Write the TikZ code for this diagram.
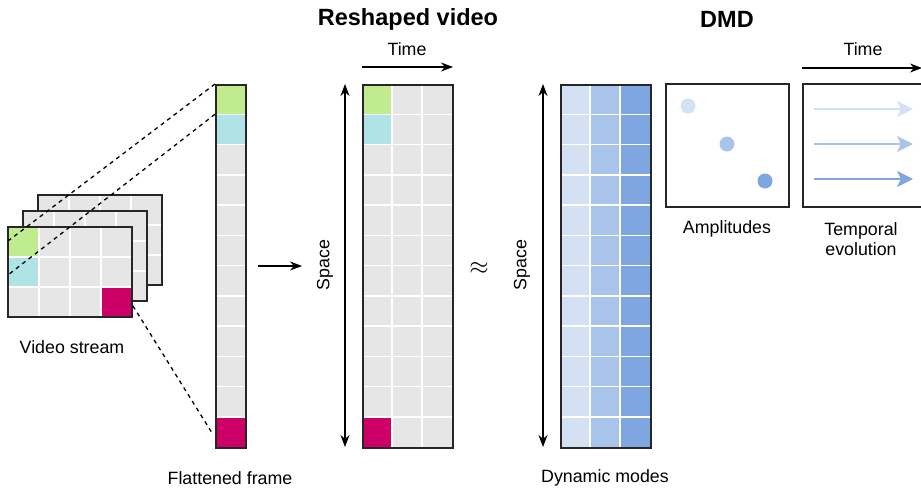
\documentclass[tikz,border=0pt]{standalone}
\usepackage{fontspec}
\setmainfont{Liberation Sans}
\usetikzlibrary{arrows.meta,positioning}

\definecolor{cellgray}{HTML}{E6E6E6}
\definecolor{pixgreen}{HTML}{C0EB8F}
\definecolor{pixcyan}{HTML}{B0E3E6}
\definecolor{pixmag}{HTML}{CC0066}
\definecolor{modeA}{HTML}{D4E1F5}
\definecolor{modeB}{HTML}{A9C4EB}
\definecolor{modeC}{HTML}{7EA6E0}

\tikzset{
  txt/.style={font=\fontsize{17.8}{20.5}\selectfont, align=center},
  title/.style={font=\fontsize{23.5}{27}\selectfont\bfseries},
  gridline/.style={white, line width=1.5pt},
  frameline/.style={draw=black!85, line width=1.5pt},
  axis/.style={line width=1.2pt, -{Stealth[length=12pt,width=9pt]}},
  guide/.style={line width=1.3pt, dash pattern=on 4pt off 4pt},
}

\begin{document}
\begin{tikzpicture}[x=1pt, y=-1pt]
\useasboundingbox (0,0) rectangle (921,490);

% video stream: three stacked frames
\foreach \ox/\oy in {30/-32, 15/-16} {
  \fill[cellgray] (8+\ox,227+\oy) rectangle (132+\ox,317+\oy);
  \foreach \k in {1,2,3}
    \draw[gridline] (8+\ox+31*\k,227+\oy) -- (8+\ox+31*\k,317+\oy);
  \foreach \k in {1,2}
    \draw[gridline] (8+\ox,227+\oy+30*\k) -- (132+\ox,227+\oy+30*\k);
  \draw[frameline] (8+\ox,227+\oy) rectangle (132+\ox,317+\oy);
}
\fill[cellgray] (8,227) rectangle (132,317);
\fill[pixgreen] (8,227) rectangle (39,257);
\fill[pixcyan] (8,257) rectangle (39,287);
\fill[pixmag] (101,287) rectangle (132,317);
\foreach \k in {1,2,3}
  \draw[gridline] (8+31*\k,227) -- (8+31*\k,317);
\foreach \k in {1,2}
  \draw[gridline] (8,227+30*\k) -- (132,227+30*\k);
\draw[frameline] (8,227) rectangle (132,317);
\node[txt] (stream) at (72,347) {Video stream};

% flattened frame
\fill[cellgray] (215,84) rectangle (245,447);
\fill[pixgreen] (215,84) rectangle (245,114.25);
\fill[pixcyan] (215,114.25) rectangle (245,144.5);
\fill[pixmag] (215,416.75) rectangle (245,447);
\foreach \k in {1,...,11}
  \draw[gridline] (215,84+30.25*\k) -- (245,84+30.25*\k);
\node[frameline, minimum width=30pt, minimum height=363pt, inner sep=0pt,
  anchor=north west] (flat) at (215,84) {};
\node[txt] (flatlbl) at (230,478) {Flattened frame};

% reshaped video
\fill[cellgray] (362,84) rectangle (452,447);
\fill[pixgreen] (362,84) rectangle (392,114.25);
\fill[pixcyan] (362,114.25) rectangle (392,144.5);
\fill[pixmag] (362,416.75) rectangle (392,447);
\foreach \k in {1,...,11}
  \draw[gridline] (362,84+30.25*\k) -- (452,84+30.25*\k);
\foreach \k in {1,2}
  \draw[gridline] (362+30*\k,84) -- (362+30*\k,447);
\node[frameline, minimum width=90pt, minimum height=363pt, inner sep=0pt,
  anchor=north west] (video) at (362,84) {};
\node[title] (vidtitle) at (408,19) {Reshaped video};
\node[txt] (time1) at (407,49) {Time};
\coordinate (t1a) at (362,67);
\coordinate (t1b) at (453,67);
\draw[axis] (t1a) -- (t1b);
\coordinate (s1a) at (345,447);
\coordinate (s1b) at (345,84);
\draw[axis, {Stealth[length=12pt,width=9pt]}-{Stealth[length=12pt,width=9pt]}] (s1a) -- (s1b);
\node[txt, rotate=90] (space1) at (325,265) {Space};

\coordinate (m1) at (258,266);
\coordinate (m2) at (302,266);
\draw[axis] (m1) -- (m2);
\node[font=\fontsize{24}{26}\selectfont] (approx) at (479,268) {$\approx$};

% DMD modes
\foreach \c/\col in {0/modeA, 1/modeB, 2/modeC}
  \fill[\col] (560+30*\c,84) rectangle (590+30*\c,447);
\foreach \k in {1,...,11}
  \draw[gridline] (560,84+30.25*\k) -- (650,84+30.25*\k);
\foreach \k in {1,2}
  \draw[gridline] (560+30*\k,84) -- (560+30*\k,447);
\node[frameline, minimum width=90pt, minimum height=363pt, inner sep=0pt,
  anchor=north west] (modes) at (560,84) {};
\coordinate (s2a) at (543,447);
\coordinate (s2b) at (543,84);
\draw[axis, {Stealth[length=12pt,width=9pt]}-{Stealth[length=12pt,width=9pt]}] (s2a) -- (s2b);
\node[txt, rotate=90] (space2) at (522,265) {Space};
\node[txt] (modelbl) at (605,478) {Dynamic modes};
\node[title] (dmdtitle) at (727,19) {DMD};

% amplitudes
\node[frameline, minimum width=123pt, minimum height=123pt, inner sep=0pt,
  anchor=north west] (amp) at (665,83) {};
\fill[modeA] (688,106) circle (7.5);
\fill[modeB] (727,144) circle (7.5);
\fill[modeC] (765,181) circle (7.5);
\node[txt] (amplbl) at (727,229) {Amplitudes};

% temporal evolution
\node[frameline, minimum width=122pt, minimum height=123pt, inner sep=0pt,
  anchor=north west] (evo) at (802,83) {};
\foreach \y/\col in {109/modeA, 144/modeB, 179/modeC}
  \draw[\col, line width=2.5pt, -{Stealth[length=16pt,width=16pt,inset=4pt]}] (814,\y) -- (913,\y);
\node[txt] (time2) at (863,49) {Time};
\coordinate (t2a) at (802,68);
\coordinate (t2b) at (922,68);
\draw[axis] (t2a) -- (t2b);
\node[txt] (evolbl) at (861,239) {Temporal\\[-1pt]evolution};

% guides from frame to column
\coordinate (g1) at (8,241);
\coordinate (g2) at (8,275);
\coordinate (g3) at (133,306);
\draw[guide] (flat.north west) -- (g1);
\draw[guide] ([yshift=-30.25pt]flat.north west) -- (g2);
\draw[guide] (g3) -- ([xshift=-2pt,yshift=14pt]flat.south west);

\end{tikzpicture}
\end{document}
